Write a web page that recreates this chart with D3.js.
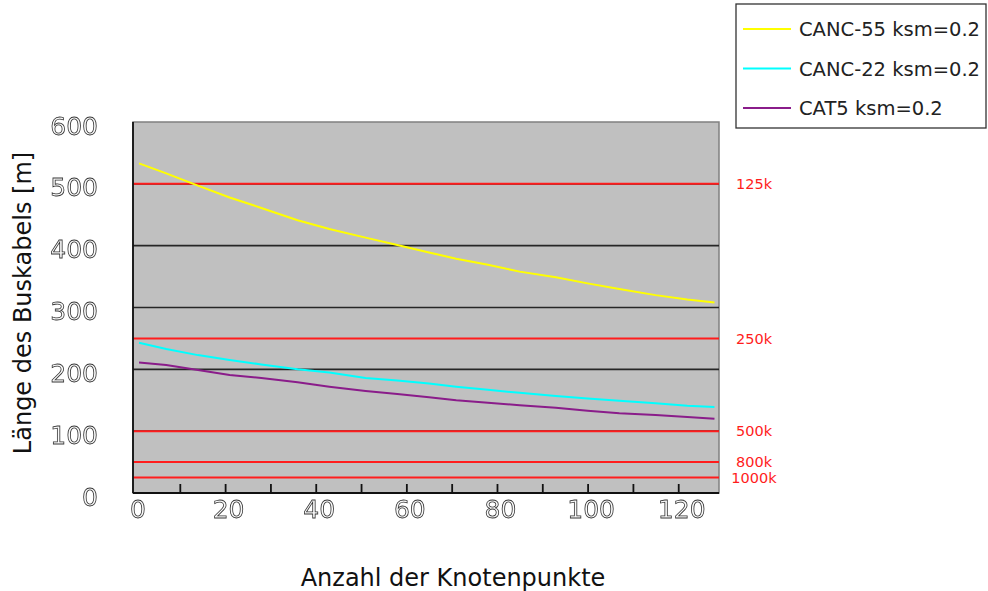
<!DOCTYPE html>
<meta charset="utf-8">
<style>

body {
  margin: 0;
  background: #fff;
}

.chart text {
  font-family: "DejaVu Sans", sans-serif;
}

.plot-bg {
  fill: #c0c0c0;
  stroke: #808080;
  stroke-width: 1.5;
}

.grid line {
  stroke: #262626;
  stroke-width: 1.6;
}

.limit line {
  stroke: #ff1c1c;
  stroke-width: 2;
}

.limit text {
  fill: #ff1c1c;
  font-size: 14.5px;
  text-anchor: middle;
}

.axis path,
.axis line {
  fill: none;
  stroke: #111;
  stroke-width: 1.8;
}

.axis.labels {
  opacity: 0.99;
  will-change: transform;
}

.axis.labels text {
  font-size: 25px;
  fill: #fafafa;
  stroke: #333;
  stroke-width: 0.8;
}

.title {
  font-size: 24px;
  fill: #111;
}

.series {
  fill: none;
  stroke-width: 2;
}

.legend rect {
  fill: #fff;
  stroke: #333;
  stroke-width: 1.3;
}

.legend text {
  font-size: 19.5px;
  fill: #222;
}

</style>
<svg class="chart"></svg>
<script src="https://d3js.org/d3.v7.min.js"></script>
<script>

// node counts (x) at which the curves were read
var nodes  = [1, 7, 14, 21, 28, 36, 43, 51, 58, 65, 71, 78, 85, 93, 100, 107, 115, 122, 128];
var canc55 = [533, 517, 497, 478, 461, 441, 427, 413, 401, 389, 379, 369, 358, 349, 339, 330, 320, 313, 308];
var canc22 = [243, 233, 223, 215, 208, 200, 195, 186, 182, 177, 172, 167, 162, 157, 153, 149, 145, 141, 139];
var cat5   = [211, 207, 199, 191, 186, 179, 172, 165, 160, 155, 150, 146, 142, 138, 133, 129, 126, 123, 120];

var seriesNames = ["CANC-55 ksm=0.2", "CANC-22 ksm=0.2", "CAT5 ksm=0.2"];

// bit rate limits: max bus length per bit rate
var limitValues = [500, 250, 100, 50, 25];
var limitLabels = ["125k", "250k", "500k", "800k", "1000k"];

var xLabels = [0, 20, 40, 60, 80, 100, 120];
var yLabels = [0, 100, 200, 300, 400, 500, 600];

var W = 988, H = 591;
var plot = {left: 133, right: 719, top: 122, bottom: 493};

var svg = d3.select(".chart")
    .attr("width", W)
    .attr("height", H);

var x = d3.scaleLinear().domain([0, 129]).range([134.5, plot.right]);
var y = d3.scaleLinear().domain([0, 600]).range([plot.bottom, plot.top]);

svg.append("rect")
    .attr("class", "plot-bg")
    .attr("x", plot.left)
    .attr("y", plot.top)
    .attr("width", plot.right - plot.left)
    .attr("height", plot.bottom - plot.top);

// horizontal gridlines
svg.append("g")
    .attr("class", "grid")
  .selectAll("line")
    .data(yLabels.slice(1, -1))
  .enter().append("line")
    .attr("x1", plot.left)
    .attr("x2", plot.right)
    .attr("y1", function(d) { return y(d); })
    .attr("y2", function(d) { return y(d); });

// red bit-rate limit lines
var limit = svg.append("g")
    .attr("class", "limit")
  .selectAll("g")
    .data(limitValues)
  .enter().append("g");

limit.append("line")
    .attr("x1", plot.left)
    .attr("x2", plot.right)
    .attr("y1", function(d) { return y(d); })
    .attr("y2", function(d) { return y(d); });

limit.append("text")
    .attr("x", 754)
    .attr("y", function(d) { return y(d); })
    .attr("dy", "0.36em")
    .text(function(d, i) { return limitLabels[i]; });

// axis lines + small inner ticks every 10 nodes
svg.append("g")
    .attr("class", "axis")
    .attr("transform", "translate(0," + plot.bottom + ")")
    .call(d3.axisTop(x).tickValues(d3.range(10, 130, 10)).tickSize(9).tickSizeOuter(0).tickFormat(""))
    .call(function(g) { g.select(".domain").attr("d", "M" + plot.left + ",0H" + plot.right); });

svg.append("line")
    .attr("class", "axis-left")
    .attr("x1", plot.left).attr("x2", plot.left)
    .attr("y1", plot.top).attr("y2", plot.bottom)
    .style("stroke", "#111")
    .style("stroke-width", 1.8);

// tick labels
svg.append("g")
    .attr("class", "axis labels")
    .attr("transform", "translate(0," + plot.bottom + ")")
    .call(d3.axisBottom(x).tickValues(xLabels).tickSize(0).tickPadding(7))
    .call(function(g) {
      g.select(".domain").remove();
      g.selectAll("text").attr("dx", 3);
    });

svg.append("g")
    .attr("class", "axis labels")
    .attr("transform", "translate(98,0)")
    .call(d3.axisLeft(y).tickValues(yLabels).tickSize(0).tickPadding(0))
    .call(function(g) {
      g.select(".domain").remove();
      g.selectAll("text").attr("dy", "0.48em");
    });

svg.selectAll(".axis.labels").attr("font-size", null).attr("font-family", null);

// titles
svg.append("text")
    .attr("class", "title")
    .attr("x", 453)
    .attr("y", 586)
    .attr("text-anchor", "middle")
    .text("Anzahl der Knotenpunkte");

svg.append("text")
    .attr("class", "title")
    .attr("transform", "translate(31,303) rotate(-90)")
    .attr("text-anchor", "middle")
    .text("Länge des Buskabels [m]");

// curves
var series = [
  {name: seriesNames[0], values: canc55, color: "#ffff00"},
  {name: seriesNames[1], values: canc22, color: "#00ffff"},
  {name: seriesNames[2], values: cat5,   color: "#8a1c8a"}
];

var line = d3.line()
    .x(function(d, i) { return x(nodes[i]); })
    .y(function(d) { return y(d); });

svg.selectAll(".series")
    .data(series)
  .enter().append("path")
    .attr("class", "series")
    .attr("stroke", function(d) { return d.color; })
    .attr("d", function(d) { return line(d.values); });

// legend
var legend = svg.append("g").attr("class", "legend");

legend.append("rect")
    .attr("x", 736)
    .attr("y", 4)
    .attr("width", 250)
    .attr("height", 124);

var item = legend.selectAll("g")
    .data(series)
  .enter().append("g")
    .attr("transform", function(d, i) { return "translate(743," + (29 + i * 39.5) + ")"; });

item.append("line")
    .attr("x1", 0)
    .attr("x2", 48)
    .attr("stroke", function(d) { return d.color; })
    .attr("stroke-width", 2);

item.append("text")
    .attr("x", 56)
    .attr("dy", "0.36em")
    .text(function(d) { return d.name; });

</script>
